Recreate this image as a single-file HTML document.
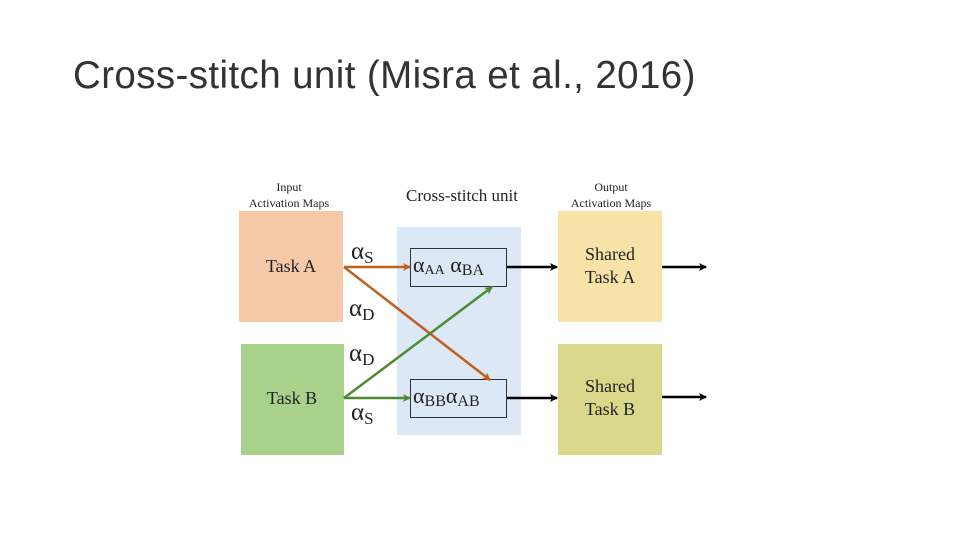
<!DOCTYPE html>
<html><head><style>
body{margin:0;width:960px;height:540px;background:#fff;position:relative;overflow:hidden;font-family:"Liberation Serif",serif}
.t{position:absolute;left:73px;top:54px;font-family:"Liberation Sans",sans-serif;font-size:38.5px;color:#333;letter-spacing:0.4px}
</style></head><body>
<div class="t">Cross-stitch unit (Misra et al., 2016)</div>
<svg width="960" height="540" style="position:absolute;left:0;top:0" font-family="Liberation Serif, serif">
<defs>
<marker id="ao" markerWidth="8" markerHeight="8" refX="7" refY="4" orient="auto" markerUnits="userSpaceOnUse"><path d="M0,0 L8,4 L0,8 L2,4z" fill="#c0601e"/></marker>
<marker id="ag" markerWidth="8" markerHeight="8" refX="7" refY="4" orient="auto" markerUnits="userSpaceOnUse"><path d="M0,0 L8,4 L0,8 L2,4z" fill="#4e8a32"/></marker>
<marker id="ak" markerWidth="8" markerHeight="8" refX="7" refY="4" orient="auto" markerUnits="userSpaceOnUse"><path d="M0,0 L8,4 L0,8 L2,4z" fill="#000"/></marker>
</defs>
<text x="289" y="191" font-size="12" text-anchor="middle" fill="#222">Input</text>
<text x="289" y="207" font-size="12" text-anchor="middle" fill="#222">Activation Maps</text>
<text x="462" y="201" font-size="17" text-anchor="middle" fill="#222">Cross-stitch unit</text>
<text x="611" y="191" font-size="12" text-anchor="middle" fill="#222">Output</text>
<text x="611" y="207" font-size="12" text-anchor="middle" fill="#222">Activation Maps</text>
<rect x="239" y="211" width="104" height="111" fill="#f5c9a8"/>
<rect x="241" y="344" width="103" height="111" fill="#a8d18c"/>
<rect x="397" y="227" width="124" height="208" fill="#dce8f6"/>
<rect x="558" y="211" width="104" height="111" fill="#f7e2a8"/>
<rect x="558" y="344" width="104" height="111" fill="#d9d789"/>
<rect x="410.5" y="248.5" width="96" height="38" fill="#dce8f6" stroke="#333"/>
<rect x="410.5" y="379.5" width="96" height="38" fill="#dce8f6" stroke="#333"/>
<text x="291" y="272" font-size="18" text-anchor="middle" fill="#222">Task A</text>
<text x="292" y="404" font-size="18" text-anchor="middle" fill="#222">Task B</text>
<text x="610" y="260" font-size="18" text-anchor="middle" fill="#222">Shared</text>
<text x="610" y="283" font-size="18" text-anchor="middle" fill="#222">Task A</text>
<text x="610" y="392" font-size="18" text-anchor="middle" fill="#222">Shared</text>
<text x="610" y="415" font-size="18" text-anchor="middle" fill="#222">Task B</text>
<g font-size="22" fill="#222">
<text x="413" y="272"><tspan>α</tspan><tspan font-size="14" dy="2">AA</tspan><tspan dy="-2"> α</tspan><tspan font-size="16" dy="3">BA</tspan></text>
<text x="413" y="403"><tspan>α</tspan><tspan font-size="16" dy="3">BB</tspan><tspan dy="-3">α</tspan><tspan font-size="16" dy="3">AB</tspan></text>
<text x="351" y="259"><tspan font-size="25">α</tspan><tspan font-size="17" dy="4">S</tspan></text>
<text x="349" y="316"><tspan font-size="25">α</tspan><tspan font-size="17" dy="4">D</tspan></text>
<text x="349" y="361"><tspan font-size="25">α</tspan><tspan font-size="17" dy="4">D</tspan></text>
<text x="351" y="420"><tspan font-size="25">α</tspan><tspan font-size="17" dy="4">S</tspan></text>
</g>
<g stroke-width="2.5" fill="none">
<line x1="344" y1="267" x2="410" y2="267" stroke="#c0601e" marker-end="url(#ao)"/>
<line x1="344" y1="267" x2="490" y2="380" stroke="#c0601e" marker-end="url(#ao)"/>
<line x1="344" y1="398" x2="410" y2="398" stroke="#4e8a32" marker-end="url(#ag)"/>
<line x1="344" y1="398" x2="492" y2="287" stroke="#4e8a32" marker-end="url(#ag)"/>
<line x1="507" y1="267" x2="557" y2="267" stroke="#000" marker-end="url(#ak)"/>
<line x1="662" y1="267" x2="706" y2="267" stroke="#000" marker-end="url(#ak)"/>
<line x1="507" y1="398" x2="557" y2="398" stroke="#000" marker-end="url(#ak)"/>
<line x1="662" y1="397" x2="706" y2="397" stroke="#000" marker-end="url(#ak)"/>
</g>
</svg>
</body></html>
